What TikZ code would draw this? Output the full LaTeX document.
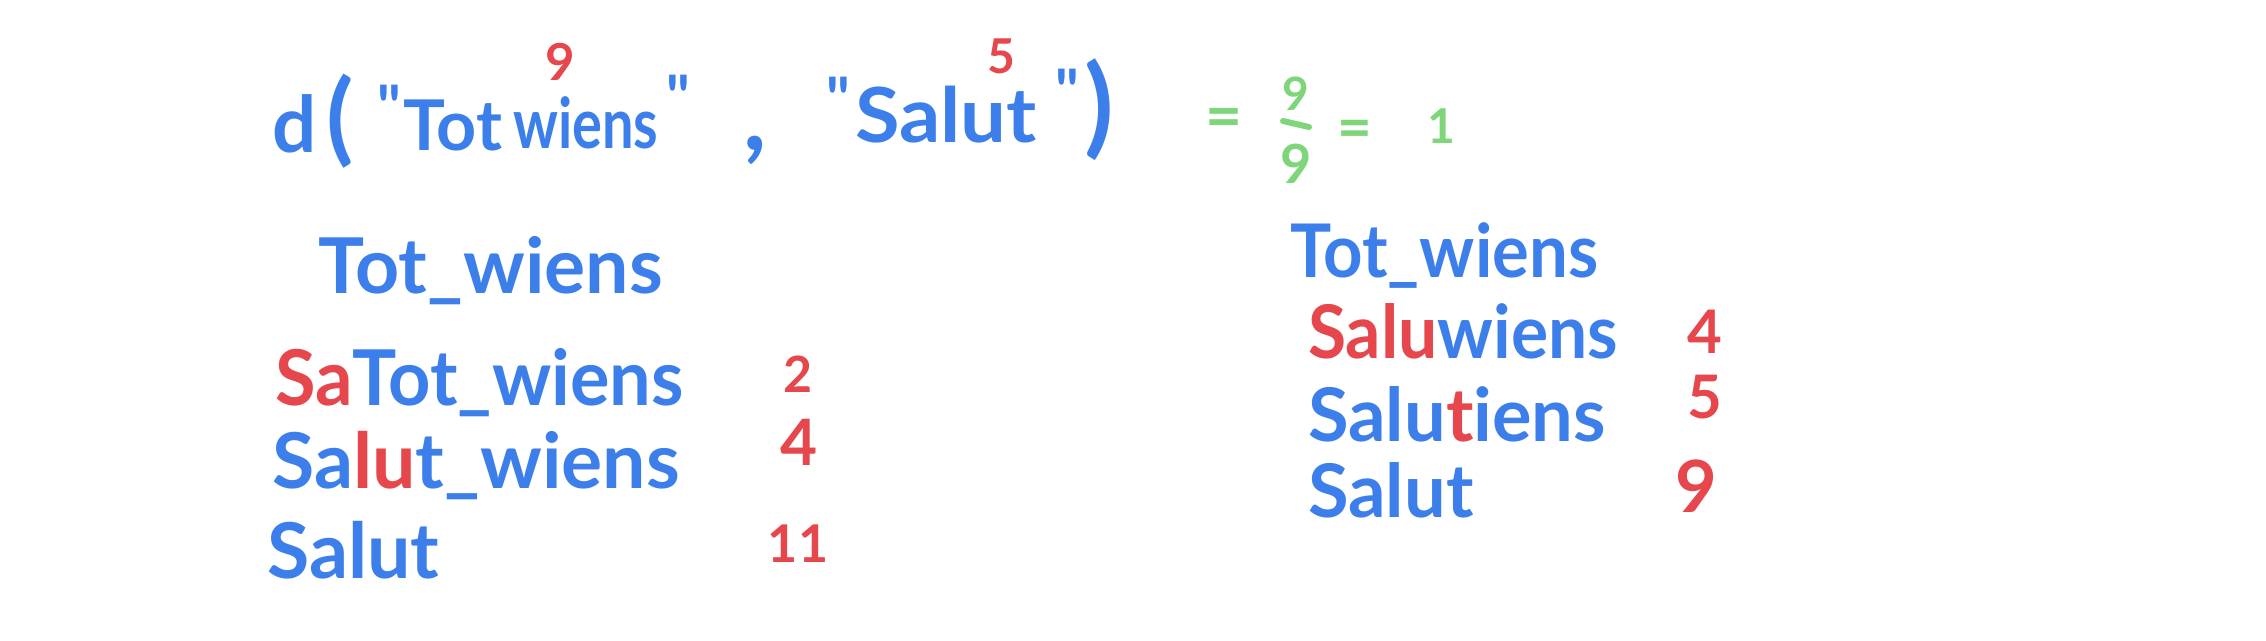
\documentclass[tikz,border=0pt]{standalone}
\usepackage{fontspec}
\setmainfont{Lato}
\definecolor{hblue}{HTML}{3D7FEA}
\definecolor{hred}{HTML}{E5474C}
\definecolor{hgreen}{HTML}{7ED57A}
\begin{document}
\begin{tikzpicture}[x=1pt,y=-1pt,
  hw/.style={inner sep=0pt, anchor=base west, text=hblue, font=\bfseries\fontsize{#1}{#1}\selectfont},
  hw/.default=77,
  num/.style={inner sep=0pt, anchor=center, text=hred, font=\bfseries\fontsize{#1}{#1}\selectfont},
  num/.default=60,
  gnum/.style={inner sep=0pt, anchor=center, text=hgreen, font=\bfseries\fontsize{#1}{#1}\selectfont},
  gnum/.default=50]
\useasboundingbox[fill=white] (0,0) rectangle (2266,640);
% top formula
\node[hw=78] (d) at (272,152) {d};
\node[hw=100] (lp) at (326,152) {(};
\node[hw=60] (q1) at (377,128) {\textquotedbl};
\node[hw=70] (w1) at (403,150) {Tot};
\node[hw=70,xscale=0.8] (w2) at (513,148) {wiens};
\node[hw=60] (q2) at (666,118) {\textquotedbl};
\node[hw=100] (comma) at (743,150) {,};
\node[hw=60] (q3) at (826,120) {\textquotedbl};
\node[hw=76,xscale=1.07] (w3) at (855,142) {Salut};
\node[hw=60] (q4) at (1055,112) {\textquotedbl};
\node[hw=108] (rp) at (1084,143) {)};
\node[num=51] (n9) at (560,62) {9};
\node[num=48] (n5) at (1001,56) {5};
% green result
\node[gnum=64] (eq1) at (1224,123) {=};
\node[gnum=46] (f1) at (1296,94) {9};
\node[gnum=54] (f2) at (1296,164) {9};
\draw[hgreen, line width=6, line cap=round] (1283,121) -- (1309,127);
\node[gnum=60] (eq2) at (1355,134) {=};
\node[gnum=48] (one) at (1441,126) {1};
% left list
\node[hw=77] (l1) at (318,293) {Tot\_wiens};
\node[hw=77,xscale=0.96] (l2) at (275,405) {\textcolor{hred}{Sa}Tot\_wiens};
\node[hw=77] (l3) at (272,488) {Sa\textcolor{hred}{lu}t\_wiens};
\node[hw=77] (l4) at (267,578) {Salut};
\node[num=50] (c2) at (798,374) {2};
\node[num=64] (c4) at (799,442) {4};
\node[num=52] (c11) at (798,544) {11};
% right list
\node[hw=74,xscale=0.93] (r1) at (1290,277) {Tot\_wiens};
\node[hw=74,xscale=0.94] (r2) at (1308,358) {\textcolor{hred}{Salu}wiens};
\node[hw=74] (r3) at (1308,441) {Salu\textcolor{hred}{t}iens};
\node[hw=74] (r4) at (1308,517) {Salut};
\node[num=60] (d4) at (1705,332) {4};
\node[num=60] (d5) at (1705,397) {5};
\node[num=72] (d9) at (1696,486) {9};
\end{tikzpicture}
\end{document}
